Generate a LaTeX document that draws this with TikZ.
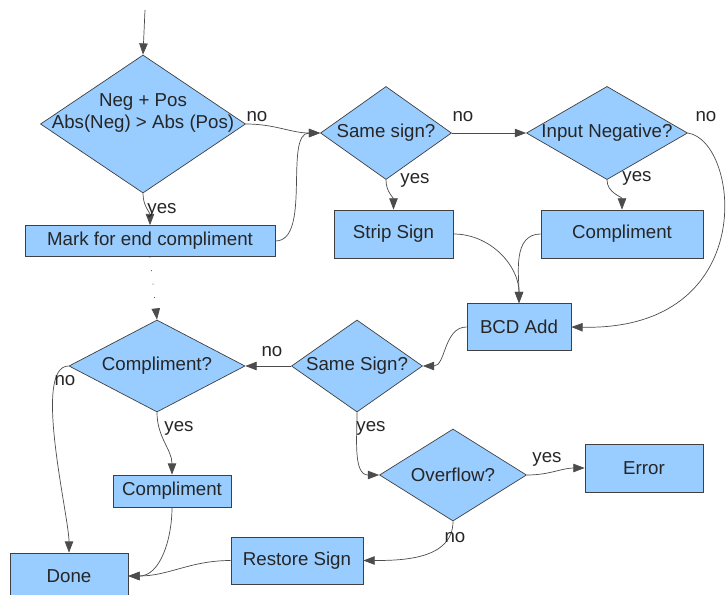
\documentclass[tikz,border=0pt]{standalone}
\usepackage{fontspec}
\setmainfont{Liberation Sans}
\usetikzlibrary{shapes.geometric,arrows.meta}
\definecolor{flowblue}{HTML}{99CCFF}

\begin{document}
\begin{tikzpicture}[x=0.025cm, y=0.025cm,
  font=\fontsize{13.3}{15.6}\selectfont,
  box/.style = {draw=black!75, line width=0.5pt, fill=flowblue, text=black!85, inner sep=0pt},
  decision/.style = {box, diamond},
  arr/.style = {draw=black!70, line width=0.5pt, -{Triangle[length=8pt,width=6pt]}},
  lbl/.style = {inner sep=0pt, text=black!85}]
\useasboundingbox (0,0) rectangle (726,-594);

% decisions
\node[decision, minimum width=5.125cm, minimum height=3.45cm] (neg) at (143,-124)
  {\makebox[0pt]{\begin{tabular}{@{}c@{}}Neg + Pos\\Abs(Neg) > Abs (Pos)\\ \mbox{}\end{tabular}}};
\node[decision, shape aspect=1.41, minimum width=3.275cm, minimum height=2.325cm] (same) at (386,-133) {Same sign?};
\node[decision, shape aspect=1.73, minimum width=4.025cm, minimum height=2.325cm] (inneg) at (607,-133) {Input Negative?};
\node[decision, shape aspect=1.42, minimum width=3.275cm, minimum height=2.3cm] (same2) at (357,-366) {Same Sign?};
\node[decision, shape aspect=1.91, minimum width=4.4cm, minimum height=2.3cm] (comp) at (157,-366) {Compliment?};
\node[decision, shape aspect=1.6, minimum width=3.675cm, minimum height=2.3cm] (ovf) at (453,-475) {Overflow?};

% blocks
\node[box, minimum width=6.25cm, minimum height=0.775cm] (mark) at (150,-241) {Mark for end compliment};
\node[box, minimum width=2.975cm, minimum height=1.2cm] (strip) at (393.5,-234) {Strip Sign};
\node[box, minimum width=4.05cm, minimum height=1.2cm] (comp1) at (622,-234) {Compliment};
\node[box, minimum width=2.6cm, minimum height=1.175cm] (bcd) at (519,-327) {BCD Add};
\node[box, minimum width=2.95cm, minimum height=0.8cm] (comp2) at (172,-491) {Compliment};
\node[box, minimum width=2.95cm, minimum height=1.15cm] (done) at (69,-576) {Done};
\node[box, minimum width=3.3cm, minimum height=1.175cm] (restore) at (297,-560.5) {Restore Sign};
\node[box, minimum width=2.95cm, minimum height=1.2cm] (error) at (644,-468) {Error};

\coordinate (start) at (145,-10);

% connectors
\draw[arr] (start) -- (neg.north);
\draw[arr] (neg.south) to[out=-90,in=90] (mark.north);
\draw[arr] (neg.east) to[out=0,in=180] (same.west);
\draw[arr] (mark.east) to[out=0,in=180,looseness=0.8] (same.west);
\draw[arr] (same.east) -- (inneg.west);
\draw[arr] (same.south) to[out=-90,in=90] (strip.north);
\draw[arr] (inneg.south) to[out=-90,in=90] (comp1.north);
\draw[arr] (inneg.east) .. controls +(52,-8) and +(190,-4) .. (bcd.east);
\draw[arr] (strip.east) to[out=0,in=90] (bcd.north);
\draw[arr] (comp1.west) to[out=180,in=90] (bcd.north);
\draw[arr] (bcd.west) to[out=180,in=0] (same2.east);
\draw[arr] (same2.west) -- (comp.east);
\draw[arr, dash pattern=on 0.6pt off 9pt] (mark.south) -- (comp.north);
\draw[arr] (comp.west) to[out=180,in=90,looseness=0.5] (done.north);
\draw[arr] (comp.south) to[out=-90,in=90] (comp2.north);
\draw[arr] (comp2.south) to[out=-90,in=0] (done.east);
\draw[arr] (restore.west) to[out=180,in=0] (done.east);
\draw[arr] (same2.south) to[out=-90,in=180] (ovf.west);
\draw[arr] (ovf.east) to[out=0,in=180] (error.west);
\draw[arr] (ovf.south) to[out=-90,in=0] (restore.east);

% yes / no
\node[lbl] (n1) at (257,-117) {no};
\node[lbl] (y1) at (162,-210) {yes};
\node[lbl] (n2) at (463,-117) {no};
\node[lbl] (y2) at (415,-180) {yes};
\node[lbl] (y3) at (637,-178) {yes};
\node[lbl] (n3) at (706,-117) {no};
\node[lbl] (n4) at (272,-352) {no};
\node[lbl] (n5) at (65,-381) {no};
\node[lbl] (y4) at (179,-428) {yes};
\node[lbl] (y5) at (371,-428) {yes};
\node[lbl] (y6) at (547,-459) {yes};
\node[lbl] (n6) at (455,-538) {no};
\end{tikzpicture}
\end{document}
